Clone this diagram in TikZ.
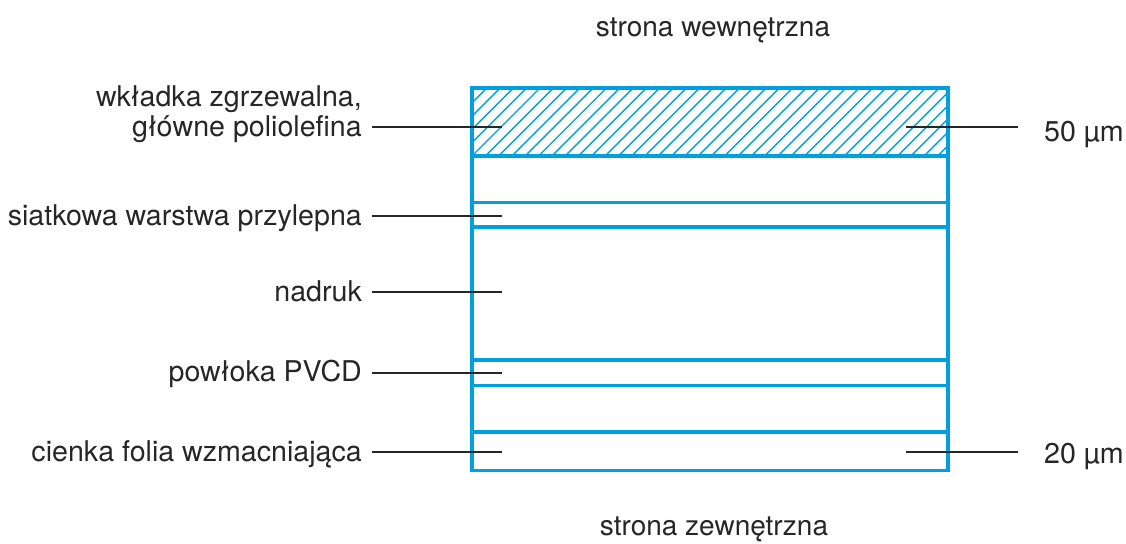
\documentclass[tikz,border=0pt]{standalone}
\usepackage{fontspec}
\setmainfont{TeX Gyre Heros}
\definecolor{layerblue}{RGB}{0,160,220}
\definecolor{inktext}{RGB}{38,38,38}
\begin{document}
\begin{tikzpicture}[x=1pt,y=-1pt,
  lbl/.style={font=\fontsize{28.6}{34}\selectfont, text=inktext, inner ysep=0pt, inner xsep=10pt},
  heading/.style={font=\fontsize{28}{34}\selectfont, text=inktext, inner sep=0pt},
  unitlbl/.style={font=\fontsize{28.6}{34}\selectfont, text=inktext, inner ysep=0pt, inner xsep=26pt},
  frame/.style={draw=layerblue, line width=3.8pt},
  hatchline/.style={draw=layerblue, line width=1.4pt},
  leader/.style={draw=inktext, line width=1.3pt}]
\useasboundingbox (0,0) rectangle (1126,543);

% hatched sealing layer
\begin{scope}
  \clip (472,88) rectangle (948,156);
  \foreach \k in {-6,...,40}
    \draw[hatchline] ({472+\k*13.3},156) -- ++(68,-68);
\end{scope}

% outer frame and layer boundaries
\draw[frame] (472,88) rectangle (948,470.5);
\foreach \yy in {156,202.5,227,360,385.5,432}
  \draw[frame] (472,\yy) -- (948,\yy);

% side headings
\node[heading, anchor=base] (inside) at (713,37) {strona wewnętrzna};
\node[heading, anchor=base] (outside) at (714,535) {strona zewnętrzna};

% leader end points inside the layers
\coordinate (sealEnd) at (502,127);
\coordinate (meshEnd) at (502,216);
\coordinate (printEnd) at (502,292);
\coordinate (pvcdEnd) at (502,373);
\coordinate (foilEnd) at (502,452);
\coordinate (thickTopEnd) at (906,127);
\coordinate (thickBotEnd) at (906,452);

% layer names
\node[lbl, anchor=base east] (sealA) at (372,106.5) {wkładka zgrzewalna,};
\node[lbl, anchor=base east] (seal) at (372,136.5) {główne poliolefina};
\node[lbl, anchor=base east] (mesh) at (372,225.4) {siatkowa warstwa przylepna};
\node[lbl, anchor=base east] (print) at (372,301.7) {nadruk};
\node[lbl, anchor=base east] (pvcd) at (372,381.7) {powłoka PVCD};
\node[lbl, anchor=base east] (foil) at (372,461.4) {cienka folia wzmacniająca};

% thicknesses
\node[unitlbl, anchor=base west] (thickTop) at (1018,141) {50 µm};
\node[unitlbl, anchor=base west] (thickBot) at (1018,463) {20 µm};

% leaders
\draw[leader] (seal.east |- sealEnd) -- (sealEnd);
\draw[leader] (mesh.east |- meshEnd) -- (meshEnd);
\draw[leader] (print.east |- printEnd) -- (printEnd);
\draw[leader] (pvcd.east |- pvcdEnd) -- (pvcdEnd);
\draw[leader] (foil.east |- foilEnd) -- (foilEnd);
\draw[leader] (thickTopEnd) -- (thickTop.west |- thickTopEnd);
\draw[leader] (thickBotEnd) -- (thickBot.west |- thickBotEnd);
\end{tikzpicture}
\end{document}
